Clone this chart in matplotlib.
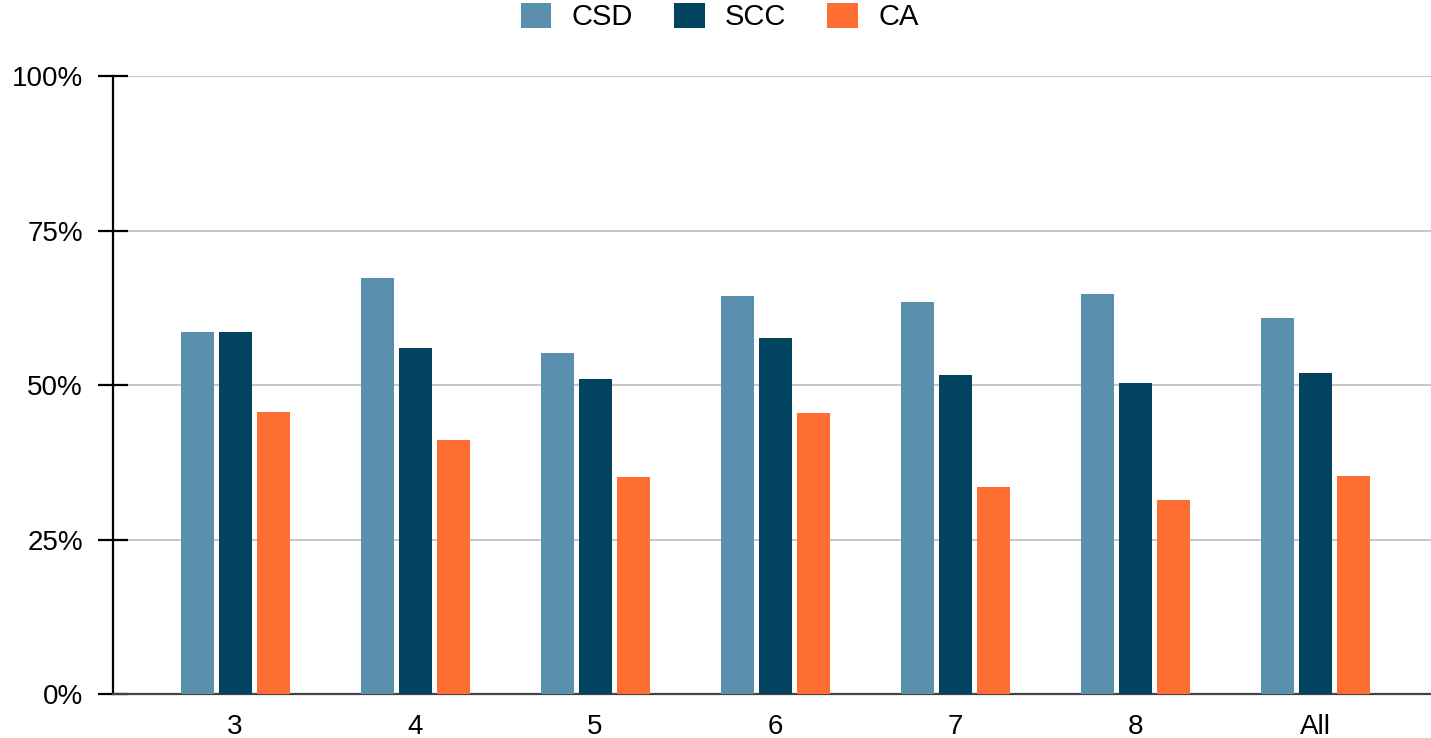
import numpy as np
import matplotlib.pyplot as plt

plt.rcParams['font.family'] = ['Liberation Sans', 'DejaVu Sans']

groups = ['3', '4', '5', '6', '7', '8', 'All']
csd = [58.6, 67.4, 55.3, 64.5, 63.4, 64.8, 60.9]
scc = [58.6, 56.0, 51.1, 57.7, 51.7, 50.3, 52.0]
ca = [45.7, 41.1, 35.1, 45.6, 33.5, 31.4, 35.3]
yticks = [0, 25, 50, 75, 100]
ytick_labels = ['0%', '25%', '50%', '75%', '100%']

colors = {'CSD': '#5a90ae', 'SCC': '#02445f', 'CA': '#fe6e33'}

fig = plt.figure(figsize=(14.31, 7.38), dpi=100)
ax = fig.add_axes([0.079, 0.0592, 0.921, 0.8374])

x = np.arange(len(groups))
w = 0.183
step = 0.211
for off, vals, name in [(-step, csd, 'CSD'), (0, scc, 'SCC'), (step, ca, 'CA')]:
    ax.bar(x + off, vals, width=w, color=colors[name], label=name, zorder=3)

ax.set_xlim(-0.678, 6.644)
ax.set_ylim(0, 100)
ax.set_yticks(yticks)
ax.set_yticklabels(ytick_labels)
ax.set_xticks(x)
ax.set_xticklabels(groups)

ax.yaxis.grid(True, color='#c8c8c8', linewidth=1.5, zorder=0)
ax.set_axisbelow(True)

for s in ['top', 'right']:
    ax.spines[s].set_visible(False)
ax.spines['left'].set_linewidth(1.6)
ax.spines['left'].set_color('black')
ax.spines['bottom'].set_linewidth(1.6)
ax.spines['bottom'].set_color('#444444')

ax.tick_params(axis='y', direction='inout', length=21.6, width=1.6,
               pad=11, labelsize=20, colors='black')
ax.tick_params(axis='x', length=0, pad=14, labelsize=20)

fig.legend(loc='upper center', bbox_to_anchor=(0.503, 1.012), ncol=3,
           frameon=False, fontsize=21, handlelength=1.05, handleheight=0.95,
           handletextpad=0.7, columnspacing=1.4, borderaxespad=0.0)

fig.savefig('out.png', dpi=100, facecolor='white')
